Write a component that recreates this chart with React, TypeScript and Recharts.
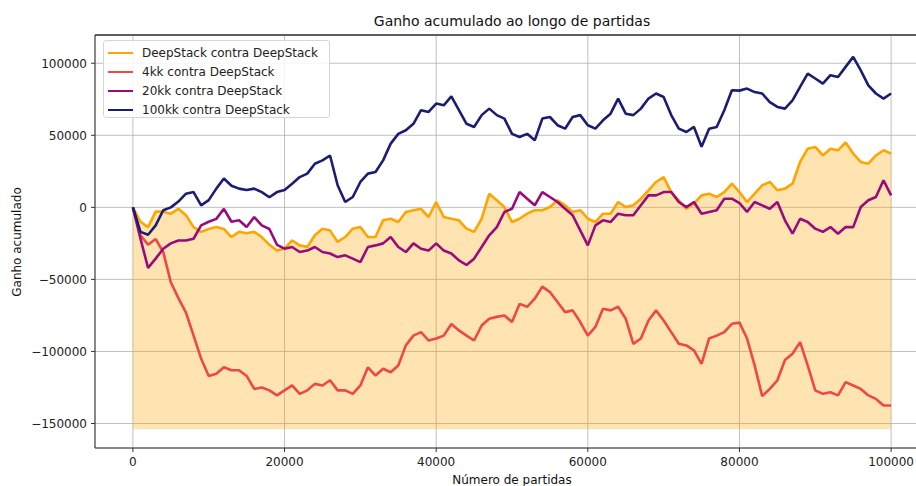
import React from "react";
import {
  ComposedChart,
  Line,
  Area,
  XAxis,
  YAxis,
  CartesianGrid,
  ReferenceLine,
} from "recharts";

// games played, one sample every 1000 games
const games = Array.from({ length: 101 }, (_, i) => i * 1000);

// accumulated gain, in thousands
const deepVsDeep = [
  0, -10, -13.7, -3, -3, -4.4, -1, -5.5, -13.7, -17, -15, -13.7, -15, -20.6, -17, -18, -17, -20.6, -26, -30, -28.7,
  -23, -26.4, -27.5, -19.4, -14.8, -16, -24, -20.6, -14.8, -13.7, -20.6, -20.6, -9, -7.9, -10.2, -3.2, -2, -1, -6.7, 3.7,
  -6.7, -7.9, -9, -14.8, -17, -7.9, 9.5, 4.9, 0.2, -10.2, -7.9, -4.4, -2, -2, 0.2, 4.9, 1.4, -3.2, -2, -7.9,
  -10.2, -4.4, -4.4, 3.7, 0.2, 1.4, 6, 11.8, 17.6, 21, 10.6, 4.9, -1, 2.5, 8.3, 9.5, 7.2, 10.6, 16.4, 10.6,
  3.7, 9.5, 15.3, 17.6, 11.8, 13, 16.4, 31.5, 40.7, 41.9, 36, 40.7, 39.6, 45, 37.3, 31.5, 30.3, 36, 39.6, 37.3,
];

const kk4 = [
  0, -19.4, -26, -22, -31, -52, -63, -73, -89, -105, -117, -115.5, -111, -113, -113, -117, -126, -125, -127, -130.5, -127,
  -123.6, -129.4, -127, -122.5, -123.6, -120, -127, -127, -129.4, -123.6, -111, -116.7, -112, -114.4, -109.7, -95.8, -89, -86.6, -92.4, -91,
  -89, -81, -85.4, -89, -92.4, -82, -77.3, -76, -75, -79.6, -67, -69, -63.4, -55, -58.8, -65.7, -72.7, -71.5, -79.6, -89,
  -83, -70.4, -71.5, -69, -77.3, -94.7, -91, -78.5, -71.5, -78.5, -86.6, -94.7, -95.8, -99.3, -108.6, -91, -89, -86.6, -80.8, -80,
  -91, -109.7, -131, -126, -120, -106, -101.6, -93.5, -109.7, -127, -129.4, -128.3, -130.5, -121.3, -123.6, -126, -130.5, -132.9, -137.5, -137.5,
];

const kk20 = [
  0, -21.8, -42, -35.6, -28.7, -25, -23, -23, -21.8, -12.5, -10, -8, -1, -10, -9, -13.7, -6.7, -12.5, -15, -26, -28.7,
  -27.5, -31, -30, -27.5, -31, -32, -34.5, -33.3, -35.6, -38, -27.5, -26.4, -25, -20.6, -27.5, -31, -25, -28.7, -30, -25,
  -30, -32, -36.8, -40, -35.6, -27.5, -19.4, -13.7, -3.2, -1, 10.6, 6, 1.4, 10.6, 7.2, 3.7, -1, -5.5, -16, -26.4,
  -12.5, -9, -10.2, -4.4, -5.5, -5.5, 1.4, 8.3, 8.3, 10.6, 10.6, 3.7, 0.2, 3.7, -4.4, -3.2, -2, 6, 6, 3,
  -3.2, 3.7, 1.4, -1, 3.7, -9, -18.3, -7.9, -10.2, -14.8, -17, -13.7, -18.3, -13.7, -13.7, 0.2, 4.9, 7.2, 18.8, 8.3,
];

const kk100 = [
  0, -17, -19, -12.5, -2, 0, 4, 9.5, 10.6, 1.4, 5, 13, 20, 15, 13, 12, 13, 10.6, 7, 10.6, 12,
  16.4, 21, 23.4, 30.3, 32.6, 36, 15.3, 3.7, 7.2, 17.6, 23.4, 24.5, 32.6, 44.2, 51, 53.5, 58, 67.4, 66.2, 72,
  70.8, 77, 67.4, 58, 55.8, 64, 68.5, 64, 61.6, 51, 48.8, 51, 46.5, 61.6, 62.7, 57, 54.6, 62.7, 64, 57,
  54.6, 60.4, 65, 75.5, 65, 64, 68.5, 75.5, 79, 76.6, 64, 54.6, 52.3, 55.8, 42, 54.6, 55.8, 67.4, 81.3, 81,
  82.4, 80, 79, 73, 69.7, 68.5, 74.3, 83.6, 92.8, 89.4, 85.9, 91.7, 90.5, 97.5, 104.4, 95, 84.7, 79, 75.5, 79,
];

const xTicks = [0, 20000, 40000, 60000, 80000, 100000];
const yTicks = [-150000, -100000, -50000, 0, 50000, 100000];

const seriesInfo = [
  { key: "deep", name: "DeepStack contra DeepStack", color: "#FFA500" },
  { key: "k4", name: "4kk contra DeepStack", color: "#EF4646" },
  { key: "k20", name: "20kk contra DeepStack", color: "#990A7C" },
  { key: "k100", name: "100kk contra DeepStack", color: "#1C1C72" },
];

const data = games.map((g, i) => ({
  x: g,
  deep: deepVsDeep[i] * 1000,
  k4: kk4[i] * 1000,
  k20: kk20[i] * 1000,
  k100: kk100[i] * 1000,
}));

const fmt = (v: number) => (v < 0 ? "\u2212" + Math.abs(v) : String(v));

const font = "'DejaVu Sans', sans-serif";

export default function App() {
  return (
    <div
      style={{
        position: "absolute",
        left: 0,
        top: 0,
        width: 916,
        height: 486,
        overflow: "hidden",
        background: "#fff",
        fontFamily: font,
        color: "#111",
      }}
    >
      <ComposedChart
        width={960}
        height={486}
        data={data}
        margin={{ top: 35, right: 31, left: 8, bottom: 8 }}
      >
        <CartesianGrid stroke="#b0b0b0" strokeWidth={0.8} />
        <XAxis
          dataKey="x"
          type="number"
          domain={[-5000, 105000]}
          ticks={xTicks}
          height={30}
          tickSize={4}
          tickMargin={5}
          tick={{ fill: "#222", fontSize: 12 }}
          stroke="#333"
        />
        <YAxis
          type="number"
          domain={[-167000, 119600]}
          ticks={yTicks}
          width={87}
          tickSize={4}
          tickMargin={4}
          tickFormatter={fmt}
          tick={{ fill: "#222", fontSize: 12 }}
          stroke="#333"
          allowDataOverflow
        />
        <ReferenceLine y={119600} stroke="#333" strokeWidth={1.5} />
        <Area
          dataKey="deep"
          baseValue={-154000}
          fill="#FFA500"
          fillOpacity={0.3}
          stroke="none"
          isAnimationActive={false}
        />
        {seriesInfo.map((s) => (
          <Line
            key={s.key}
            dataKey={s.key}
            stroke={s.color}
            strokeWidth={2.6}
            strokeLinejoin="bevel"
            dot={false}
            isAnimationActive={false}
          />
        ))}
      </ComposedChart>

      <div
        style={{
          position: "absolute",
          left: 312,
          top: 13,
          width: 400,
          textAlign: "center",
          fontSize: 14,
          lineHeight: "17px",
        }}
      >
        Ganho acumulado ao longo de partidas
      </div>
      <div
        style={{
          position: "absolute",
          left: 362,
          top: 473,
          width: 300,
          textAlign: "center",
          fontSize: 12,
          lineHeight: "14px",
        }}
      >
        Número de partidas
      </div>
      <div
        style={{
          position: "absolute",
          left: -83,
          top: 235,
          width: 200,
          height: 14,
          textAlign: "center",
          fontSize: 12,
          lineHeight: "14px",
          transform: "rotate(-90deg)",
        }}
      >
        Ganho acumulado
      </div>

      <div
        style={{
          position: "absolute",
          left: 103,
          top: 40,
          width: 227,
          height: 78,
          boxSizing: "border-box",
          border: "1px solid #d6d6d6",
          borderRadius: 3,
          background: "rgba(255,255,255,0.85)",
          paddingTop: 2,
        }}
      >
        {seriesInfo.map((s) => (
          <div
            key={s.key}
            style={{ display: "flex", alignItems: "center", height: 19, fontSize: 12, color: "#222" }}
          >
            <span
              style={{
                display: "inline-block",
                width: 25,
                height: 2,
                background: s.color,
                marginLeft: 4,
                marginRight: 9,
              }}
            />
            {s.name}
          </div>
        ))}
      </div>
    </div>
  );
}
